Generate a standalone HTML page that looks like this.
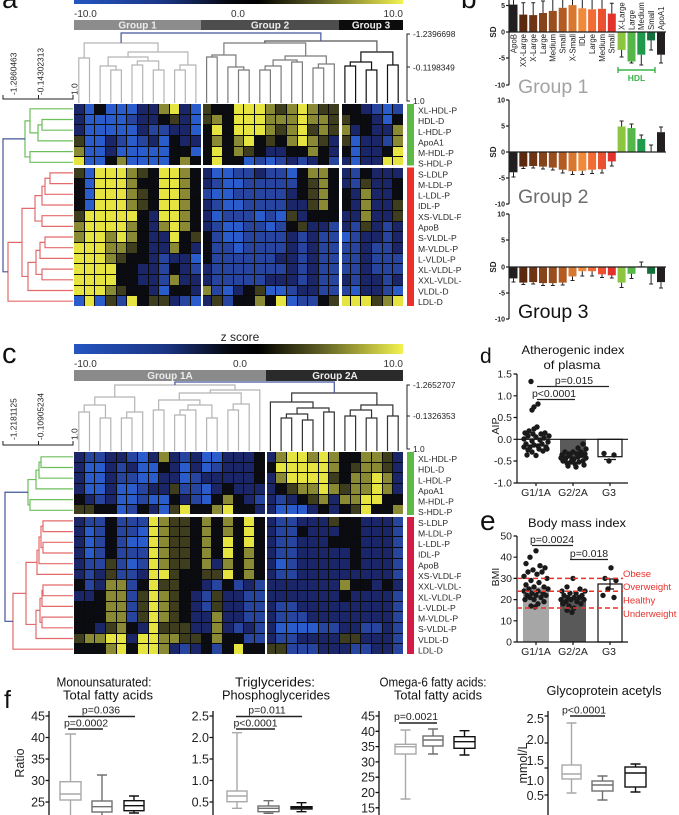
<!DOCTYPE html>
<html><head><meta charset="utf-8"><style>
html,body{margin:0;padding:0;background:#fff;}
body{width:679px;height:815px;position:relative;overflow:hidden;font-family:"Liberation Sans",Arial,sans-serif;}
svg{position:absolute;left:0;top:0;}
.hm{position:absolute;width:329px;height:202px;display:grid;grid-template-columns:repeat(31,1fr);grid-template-rows:repeat(19,1fr);gap:1px;background:#0a0a0a;}
.hm i{display:block;}
.u{background:#2a5ccc}.b{background:#27459e}.n{background:#1b2668}.k{background:#0b0c12}.o{background:#3e3e1e}.l{background:#8a8a34}.y{background:#e6e440}
.sep{position:absolute;background:#fff;}
</style></head><body>
<svg width="679" height="815" viewBox="0 0 679 815" xmlns="http://www.w3.org/2000/svg" font-family="Liberation Sans, Arial, sans-serif">
<defs>
<linearGradient id="cb" x1="0" x2="1" y1="0" y2="0">
<stop offset="0" stop-color="#2456c2"/><stop offset="0.28" stop-color="#1a3483"/><stop offset="0.47" stop-color="#05070f"/><stop offset="0.56" stop-color="#000"/><stop offset="0.75" stop-color="#5e5e24"/><stop offset="1" stop-color="#f2f250"/>
</linearGradient>
<clipPath id="cl"><rect x="0" y="0" width="461" height="815"/></clipPath>
</defs>

<!-- ============ PANEL A ============ -->
<text x="2" y="8" font-size="28" fill="#111">a</text>
<rect x="74" y="-1" width="329" height="5" fill="url(#cb)"/>
<g font-size="10" fill="#333">
<text x="74" y="17">-10.0</text><text x="238" y="17" text-anchor="middle">0.0</text><text x="403" y="17" text-anchor="end">10.0</text>
</g>
<rect x="74" y="20" width="127" height="10" fill="#8c8c8c"/>
<rect x="201" y="20" width="138" height="10" fill="#4d4d4d"/>
<rect x="339" y="20" width="64" height="10" fill="#0c0c0c"/>
<g font-size="10" font-weight="bold" fill="#ececec" text-anchor="middle">
<text x="137.5" y="28.5">Group 1</text><text x="270" y="28.5">Group 2</text><text x="371" y="28.5">Group 3</text>
</g>
<g fill="none" stroke-width="1.2">
<path stroke="#b4b4b4" d="M78.8 103V58H89.5V103M110.8 103V70H121.4V103M100.1 103V66H116.1V70M132 103V65H142.7V103M153.3 103V70H164V103M137.35 65V61H158.65V70M108.1 66V57H148V61M174.6 103V70H185.3V103M179.95 70V65H195.9V103M128.05 57V52H187.9V65M84.15 58V43H158V52"/>
<path stroke="#7a7a7a" d="M206.6 103V57H217.2V103M238.5 103V70H249.2V103M227.9 103V67H243.85V70M211.9 57V55H235.9V67M259.8 103V70H270.4V103M265.1 70V66H281.1V103M291.7 103V62H302.4V103M273.1 66V60H297.05V62M313 103V68H323.7V103M318.35 68V64H334.3V103M285.1 60V56H326.3V64M223.9 55V43H305.7V56"/>
<path stroke="#111" d="M344.9 103V66H355.6V103M366.2 103V70H376.9V103M350.25 66V62H371.55V70M387.5 103V65H398.2V103M360.9 62V52H392.85V65"/>
<path stroke="#555" d="M264.8 43V41H376.9V52"/>
<path stroke="#44559a" d="M121.1 43V33H320.85V41"/>
</g>
<path d="M410 34H407V101H410M407 67H410" fill="none" stroke="#222" stroke-width="1"/>
<g font-size="8.4" fill="#222" clip-path="url(#cl)">
<text x="413" y="37">-1.2396698</text><text x="413" y="70.5">-0.1198349</text><text x="413" y="104">1.0</text>
</g>
<path d="M3 95V99H73V95M38.5 99V95" fill="none" stroke="#222" stroke-width="1"/>
<g font-size="8.4" fill="#222">
<text transform="translate(16.5,95) rotate(-90)">-1.2860463</text>
<text transform="translate(43.5,95) rotate(-90)">-0.14302313</text>
<text transform="translate(77.5,95) rotate(-90)">1.0</text>
</g>
<g fill="none" stroke-width="1.2">
<path stroke="#6cbf5c" d="M73 119.5H42V130.2H73M42 124.85H38V140.9H73M73 108.8H30V132.9H38M73 151.6H30V162.3H73M30 120.85H25V156.95H30"/>
<path stroke="#e36a6a" d="M73 172.9H50V183.6H73M50 178.25H45V194.3H73M45 186.3H42V205H73M73 215.7H42V226.4H73M42 195.65H35V221.05H42M73 237H45V247.7H73M45 242.35H40V258.4H73M73 269.1H42V279.8H73M40 250.4H36V274.45H42M36 262.4H28V290.5H73M35 208.35H22V276.45H28M22 242.4H8V301.2H73"/>
<path stroke="#44559a" d="M25 138.9H3V271.8H8"/>
</g>
<rect x="407" y="104" width="7" height="61.5" fill="#5dba47"/>
<rect x="407" y="167.5" width="7" height="138.5" fill="#ec2f2a"/>
<g font-size="8.6" fill="#2a2a2a" clip-path="url(#cl)">
<text x="418" y="113.5">XL-HDL-P</text><text x="418" y="124.1">HDL-D</text><text x="418" y="134.8">L-HDL-P</text><text x="418" y="145.4">ApoA1</text><text x="418" y="156">M-HDL-P</text><text x="418" y="166.7">S-HDL-P</text>
<text x="418" y="177.3">S-LDLP</text><text x="418" y="188">M-LDL-P</text><text x="418" y="198.6">L-LDL-P</text><text x="418" y="209.2">IDL-P</text><text x="418" y="219.9">XS-VLDL-P</text><text x="418" y="230.5">ApoB</text><text x="418" y="241.2">S-VLDL-P</text><text x="418" y="251.8">M-VLDL-P</text><text x="418" y="262.4">L-VLDL-P</text><text x="418" y="273.1">XL-VLDL-P</text><text x="418" y="283.7">XXL-VLDL-P</text><text x="418" y="294.3">VLDL-D</text><text x="418" y="305">LDL-D</text>
</g>

<!-- ============ PANEL B ============ -->
<text x="461" y="8" font-size="28" fill="#111">b</text>
<g>
<rect x="509.5" y="4.6" width="8" height="27.4" fill="#231f20"/>
<rect x="519.3" y="14.6" width="8" height="17.4" fill="#5b2a0e"/>
<rect x="529.2" y="15.1" width="8" height="16.9" fill="#6e3413"/>
<rect x="539" y="13" width="8" height="19" fill="#87431a"/>
<rect x="548.8" y="10.9" width="8" height="21.1" fill="#9a4d1d"/>
<rect x="558.7" y="7.8" width="8" height="24.2" fill="#b35b22"/>
<rect x="568.5" y="5.1" width="8" height="26.9" fill="#d8772f"/>
<rect x="578.3" y="8.3" width="8" height="23.7" fill="#f08a3a"/>
<rect x="588.1" y="9.3" width="8" height="22.7" fill="#f26b35"/>
<rect x="598" y="8.8" width="8" height="23.2" fill="#ec512f"/>
<rect x="607.8" y="13.6" width="8" height="18.4" fill="#e3312b"/>
<rect x="617.6" y="32" width="8" height="17.9" fill="#8cc63f"/>
<rect x="627.5" y="32" width="8" height="29.5" fill="#55b649"/>
<rect x="637.3" y="32" width="8" height="22.7" fill="#1f9a4b"/>
<rect x="647.1" y="32" width="8" height="8.4" fill="#13703a"/>
<rect x="657" y="32" width="8" height="22.7" fill="#231f20"/>
<path fill="none" stroke="#222" stroke-width="1" d="M513.5 4.6V0M523.3 14.6V2.7M521.3 2.7H525.3M533.2 15.1V2.7M531.2 2.7H535.2M543 13V1M541 1H545M552.8 10.9V0M562.7 7.8V0M572.5 5.1V0M582.3 8.3V0M592.1 9.3V0M602 8.8V0M611.8 13.6V3.3M609.8 3.3H613.8M621.6 49.9V57M619.6 57H623.6M631.5 61.5V63M629.5 63H633.5M641.3 54.7V65M639.3 65H643.3M651.1 40.4V50M649.1 50H653.1M661 54.7V63M659 63H663"/>
<path fill="none" stroke="#222" stroke-width="1.2" d="M509 0V85M506 5.5H509M506 32H509M506 58H509M506 85H509M509 32H666"/>
<g font-size="7" font-weight="bold" fill="#222" text-anchor="end">
<text x="505" y="8">5</text><text x="505" y="34.5">0</text><text x="505" y="60.5">-5</text><text x="505" y="87.5">-10</text>
</g>
<text transform="translate(496,32) rotate(-90)" font-size="8" font-weight="bold" fill="#222" text-anchor="middle">SD</text>
<g font-size="7.8" fill="#222">
<text transform="translate(516.3,34) rotate(-90)" text-anchor="end">ApoB</text>
<text transform="translate(526.1,34) rotate(-90)" text-anchor="end">XX-Large</text>
<text transform="translate(536,34) rotate(-90)" text-anchor="end">X-Large</text>
<text transform="translate(545.8,34) rotate(-90)" text-anchor="end">Large</text>
<text transform="translate(555.6,34) rotate(-90)" text-anchor="end">Medium</text>
<text transform="translate(565.5,34) rotate(-90)" text-anchor="end">Small</text>
<text transform="translate(575.3,34) rotate(-90)" text-anchor="end">X-Small</text>
<text transform="translate(585.1,34) rotate(-90)" text-anchor="end">IDL</text>
<text transform="translate(594.9,34) rotate(-90)" text-anchor="end">Large</text>
<text transform="translate(604.8,34) rotate(-90)" text-anchor="end">Medium</text>
<text transform="translate(614.6,34) rotate(-90)" text-anchor="end">Small</text>
<text transform="translate(624.4,30) rotate(-90)">X-Large</text>
<text transform="translate(634.3,30) rotate(-90)">Large</text>
<text transform="translate(644.1,30) rotate(-90)">Medium</text>
<text transform="translate(653.9,30) rotate(-90)">Small</text>
<text transform="translate(663.8,30) rotate(-90)">ApoA1</text>
</g>
<path fill="none" stroke="#3bb34a" stroke-width="1.4" d="M618 70H655M618 67V73M655 67V73"/>
<text x="636.5" y="81" font-size="8.5" font-weight="bold" fill="#3bb34a" text-anchor="middle">HDL</text>
<text x="518" y="93" font-size="19.5" fill="#a3a3a3">Group 1</text>
</g>
<g>
<rect x="509.5" y="152" width="8" height="20.3" fill="#231f20"/>
<rect x="519.3" y="152" width="8" height="14.6" fill="#5b2a0e"/>
<rect x="529.2" y="152" width="8" height="14" fill="#6e3413"/>
<rect x="539" y="152" width="8" height="14.6" fill="#87431a"/>
<rect x="548.8" y="152" width="8" height="15.6" fill="#9a4d1d"/>
<rect x="558.7" y="152" width="8" height="17.7" fill="#b35b22"/>
<rect x="568.5" y="152" width="8" height="19.2" fill="#d8772f"/>
<rect x="578.3" y="152" width="8" height="18.7" fill="#f08a3a"/>
<rect x="588.1" y="152" width="8" height="17.7" fill="#f26b35"/>
<rect x="598" y="152" width="8" height="17.2" fill="#ec512f"/>
<rect x="607.8" y="152" width="8" height="9.4" fill="#e3312b"/>
<rect x="617.6" y="126.5" width="8" height="25.5" fill="#8cc63f"/>
<rect x="627.5" y="128.1" width="8" height="23.9" fill="#55b649"/>
<rect x="637.3" y="139" width="8" height="13" fill="#1f9a4b"/>
<rect x="657" y="132.2" width="8" height="19.8" fill="#231f20"/>
<path fill="none" stroke="#222" stroke-width="1" d="M513.5 172.3V177M511.5 177H515.5M523.3 166.6V168.5M521.3 168.5H525.3M533.2 166V168M531.2 168H535.2M543 166.6V169M541 169H545M552.8 167.6V170M550.8 170H554.8M562.7 169.7V173M560.7 173H564.7M572.5 171.2V174.5M570.5 174.5H574.5M582.3 170.7V174.5M580.3 174.5H584.3M592.1 169.7V173.5M590.1 173.5H594.1M602 169.2V173M600 173H604M611.8 161.4V166M609.8 166H613.8M621.6 126.5V121M619.6 121H623.6M631.5 128.1V124M629.5 124H633.5M641.3 139V135M639.3 135H643.3M651.1 152V145M649.1 145H653.1M661 132.2V127M659 127H663"/>
<path fill="none" stroke="#222" stroke-width="1.2" d="M509 100V204M506 100H509M506 126H509M506 152H509M506 178H509M506 204H509M509 152H666"/>
<g font-size="7" font-weight="bold" fill="#222" text-anchor="end">
<text x="505" y="102.5">10</text><text x="505" y="128.5">5</text><text x="505" y="154.5">0</text><text x="505" y="180.5">-5</text><text x="505" y="206.5">-10</text>
</g>
<text transform="translate(496,152) rotate(-90)" font-size="8" font-weight="bold" fill="#222" text-anchor="middle">SD</text>
<text x="518" y="203" font-size="19.5" fill="#6d6d6d">Group 2</text>
</g>
<g>
<rect x="509.5" y="267" width="8" height="11.4" fill="#231f20"/>
<rect x="519.3" y="267" width="8" height="15.6" fill="#5b2a0e"/>
<rect x="529.2" y="267" width="8" height="15.1" fill="#6e3413"/>
<rect x="539" y="267" width="8" height="16.1" fill="#87431a"/>
<rect x="548.8" y="267" width="8" height="16.1" fill="#9a4d1d"/>
<rect x="558.7" y="267" width="8" height="15.6" fill="#b35b22"/>
<rect x="568.5" y="267" width="8" height="9.4" fill="#d8772f"/>
<rect x="578.3" y="267" width="8" height="4.2" fill="#f08a3a"/>
<rect x="588.1" y="267" width="8" height="4.2" fill="#f26b35"/>
<rect x="598" y="267" width="8" height="7.3" fill="#ec512f"/>
<rect x="607.8" y="267" width="8" height="8.3" fill="#e3312b"/>
<rect x="617.6" y="267" width="8" height="15.6" fill="#8cc63f"/>
<rect x="627.5" y="267" width="8" height="6.8" fill="#55b649"/>
<rect x="637.3" y="266.3" width="8" height="0.7" fill="#1f9a4b"/>
<rect x="647.1" y="267" width="8" height="6.8" fill="#13703a"/>
<rect x="657" y="267" width="8" height="15.1" fill="#231f20"/>
<path fill="none" stroke="#222" stroke-width="1" d="M513.5 278.4V282M511.5 282H515.5M523.3 282.6V284.5M521.3 284.5H525.3M533.2 282.1V284M531.2 284H535.2M543 283.1V285.5M541 285.5H545M552.8 283.1V285.5M550.8 285.5H554.8M562.7 282.6V285M560.7 285H564.7M572.5 276.4V280.5M570.5 280.5H574.5M582.3 271.2V276M580.3 276H584.3M592.1 271.2V276M590.1 276H594.1M602 274.3V277.5M600 277.5H604M611.8 275.3V278M609.8 278H613.8M621.6 282.6V287.5M619.6 287.5H623.6M631.5 273.8V278.5M629.5 278.5H633.5M641.3 266.5V262M639.3 262H643.3M651.1 273.8V284M649.1 284H653.1M661 282.1V288M659 288H663"/>
<path fill="none" stroke="#222" stroke-width="1.2" d="M509 214V319M506 214H509M506 240H509M506 267H509M506 293H509M506 319H509M509 267H666"/>
<g font-size="7" font-weight="bold" fill="#222" text-anchor="end">
<text x="505" y="216.5">10</text><text x="505" y="242.5">5</text><text x="505" y="269.5">0</text><text x="505" y="295.5">-5</text><text x="505" y="321.5">-10</text>
</g>
<text transform="translate(496,267) rotate(-90)" font-size="8" font-weight="bold" fill="#222" text-anchor="middle">SD</text>
<text x="518" y="318" font-size="19.5" fill="#111">Group 3</text>
</g>

<!-- ============ PANEL C ============ -->
<text x="2" y="363" font-size="29" fill="#111">c</text>
<text x="240" y="341" font-size="12" fill="#222" text-anchor="middle">z score</text>
<rect x="74" y="344" width="329" height="10" fill="url(#cb)"/>
<g font-size="10" fill="#333">
<text x="74" y="367">-10.0</text><text x="240" y="367" text-anchor="middle">0.0</text><text x="403" y="367" text-anchor="end">10.0</text>
</g>
<rect x="74" y="370" width="192" height="11" fill="#8a8a8a"/>
<rect x="266" y="370" width="137" height="11" fill="#2a2a2a"/>
<g font-size="10" font-weight="bold" fill="#ececec" text-anchor="middle">
<text x="170" y="379">Group 1A</text><text x="335" y="379">Group 2A</text>
</g>
<g fill="none" stroke-width="1.2">
<path stroke="#b4b4b4" d="M78.8 451V412H89.5V451M100.1 451V418H110.8V451M84.15 412V405H105.45V418M121.4 451V418H132V451M126.7 418V412H142.7V451M94.8 405V397H134.7V412M153.3 451V410H164V451M174.6 451V415H185.3V451M179.95 415V410H195.9V451M206.6 451V418H217.2V451M187.9 410V405H211.9V418M158.65 410V400H199.9V405M227.9 451V410H238.5V451M233.2 410V404H249.2V451M179.3 400V393H241.2V404M210.25 393V390H259.8V451M114.75 397V385H235V390"/>
<path stroke="#333" d="M281.1 451V418H291.7V451M302.4 451V420H313V451M286.4 418V414H307.7V420M323.7 451V412H334.3V451M297.05 414V408H329V412M270.4 451V402H313V408M344.9 451V416H355.6V451M366.2 451V418H376.9V451M350.25 416V410H371.55V418M387.5 451V416H398.2V451M360.9 410V405H392.85V416M291.7 402V393H376.9V405"/>
<path stroke="#44559a" d="M174.9 385V382H334.3V393"/>
</g>
<path d="M410 385H407V449H410M407 416H410" fill="none" stroke="#222" stroke-width="1"/>
<g font-size="8.4" fill="#222" clip-path="url(#cl)">
<text x="413" y="388">-1.2652707</text><text x="413" y="419">-0.1326353</text><text x="413" y="452">1.0</text>
</g>
<path d="M3 441V445H73V441M38.5 445V441" fill="none" stroke="#222" stroke-width="1"/>
<g font-size="8.4" fill="#222">
<text transform="translate(16.5,440) rotate(-90)">-1.2181125</text>
<text transform="translate(43.5,440) rotate(-90)">-0.10905234</text>
<text transform="translate(77.5,440) rotate(-90)">1.0</text>
</g>
<g fill="none" stroke-width="1.2">
<path stroke="#6cbf5c" d="M73 456.8H41V467.5H73M41 462.15H39V478.2H73M39 470.2H36V488.9H73M73 499.6H30V510.3H73M36 479.55H28V504.95H30"/>
<path stroke="#e36a6a" d="M73 520.9H43V531.6H73M73 542.3H43V553H73M43 526.25H41V547.65H43M41 536.95H39V563.7H73M39 550.3H37V574.4H73M73 585H43V595.7H73M43 590.35H42V606.4H73M73 617.1H42V627.8H73M42 598.4H40V622.45H42M40 610.4H36V638.5H73M37 562.35H26V624.45H36M26 593.4H13V649.2H73"/>
<path stroke="#44559a" d="M28 492.25H5V621.3H13"/>
</g>
<rect x="407" y="452" width="7" height="63" fill="#5dba47"/>
<rect x="407" y="517" width="7" height="137" fill="#d41b45"/>
<g font-size="8.6" fill="#2a2a2a" clip-path="url(#cl)">
<text x="418" y="462">XL-HDL-P</text><text x="418" y="472.6">HDL-D</text><text x="418" y="483.3">L-HDL-P</text><text x="418" y="493.9">ApoA1</text><text x="418" y="504.5">M-HDL-P</text><text x="418" y="515.2">S-HDL-P</text>
<text x="418" y="525.8">S-LDLP</text><text x="418" y="536.5">M-LDL-P</text><text x="418" y="547.1">L-LDL-P</text><text x="418" y="557.7">IDL-P</text><text x="418" y="568.4">ApoB</text><text x="418" y="579">XS-VLDL-P</text><text x="418" y="589.7">XXL-VLDL-P</text><text x="418" y="600.3">XL-VLDL-P</text><text x="418" y="610.9">L-VLDL-P</text><text x="418" y="621.6">M-VLDL-P</text><text x="418" y="632.2">S-VLDL-P</text><text x="418" y="642.8">VLDL-D</text><text x="418" y="653.5">LDL-D</text>
</g>

<!-- ============ PANEL D ============ -->
<text x="480" y="363" font-size="21" fill="#111">d</text>
<text x="573" y="354" font-size="12" fill="#111" text-anchor="middle" textLength="103" lengthAdjust="spacingAndGlyphs">Atherogenic index</text>
<text x="572" y="369" font-size="12" fill="#111" text-anchor="middle" textLength="57" lengthAdjust="spacingAndGlyphs">of plasma</text>
<rect x="523" y="437.6" width="26" height="1.7" fill="#a5a5a5"/>
<rect x="560" y="439.3" width="26" height="19" fill="#5a5a5a"/>
<rect x="598" y="439.3" width="24" height="17.4" fill="#fff" stroke="#111" stroke-width="1.2"/>
<path fill="none" stroke="#111" stroke-width="1.2" d="M517 374V483H628M513.5 374H517M513.5 395.8H517M513.5 417.5H517M513.5 439.3H517M513.5 461H517M513.5 483H517M536 483V486M573 483V486M610 483V486M517 439.3H628M604 459.5H616"/>
<g fill="#1a1a1a">
<circle cx="531" cy="381.5" r="2.7"/><circle cx="538" cy="404" r="2.7"/><circle cx="534" cy="407" r="2.7"/><circle cx="532" cy="410" r="2.7"/><circle cx="537" cy="427" r="2.7"/><circle cx="534" cy="429" r="2.7"/><circle cx="524" cy="439" r="2.7"/><circle cx="528" cy="436" r="2.7"/><circle cx="532" cy="441" r="2.7"/><circle cx="536" cy="437" r="2.7"/><circle cx="540" cy="440" r="2.7"/><circle cx="544" cy="438" r="2.7"/><circle cx="548" cy="442" r="2.7"/><circle cx="526" cy="444" r="2.7"/><circle cx="530" cy="447" r="2.7"/><circle cx="534" cy="445" r="2.7"/><circle cx="538" cy="446" r="2.7"/><circle cx="542" cy="444" r="2.7"/><circle cx="546" cy="447" r="2.7"/><circle cx="525" cy="433" r="2.7"/><circle cx="529" cy="431" r="2.7"/><circle cx="533" cy="434" r="2.7"/><circle cx="541" cy="434" r="2.7"/><circle cx="545" cy="433" r="2.7"/><circle cx="549" cy="436" r="2.7"/><circle cx="528" cy="450" r="2.7"/><circle cx="532" cy="452" r="2.7"/><circle cx="536" cy="455.5" r="2.7"/><circle cx="527" cy="455" r="2.7"/><circle cx="543" cy="451" r="2.7"/><circle cx="547" cy="449" r="2.7"/><circle cx="524" cy="447" r="2.7"/><circle cx="539" cy="449" r="2.7"/>
<circle cx="562" cy="455" r="2.7"/><circle cx="566" cy="458" r="2.7"/><circle cx="570" cy="456" r="2.7"/><circle cx="574" cy="459" r="2.7"/><circle cx="578" cy="457" r="2.7"/><circle cx="582" cy="455" r="2.7"/><circle cx="586" cy="458" r="2.7"/><circle cx="563" cy="461" r="2.7"/><circle cx="567" cy="463" r="2.7"/><circle cx="571" cy="462" r="2.7"/><circle cx="575" cy="464" r="2.7"/><circle cx="579" cy="462" r="2.7"/><circle cx="583" cy="461" r="2.7"/><circle cx="565" cy="452" r="2.7"/><circle cx="569" cy="454" r="2.7"/><circle cx="573" cy="452" r="2.7"/><circle cx="577" cy="454" r="2.7"/><circle cx="581" cy="452" r="2.7"/><circle cx="585" cy="454" r="2.7"/><circle cx="568" cy="466" r="2.7"/><circle cx="576" cy="467" r="2.7"/><circle cx="572" cy="460" r="2.7"/><circle cx="584" cy="465" r="2.7"/><circle cx="561" cy="458" r="2.7"/><circle cx="586" cy="449" r="2.7"/><circle cx="583" cy="444" r="2.7"/><circle cx="578" cy="448" r="2.7"/>
<circle cx="604" cy="453.5" r="2.7"/><circle cx="614" cy="455" r="2.7"/><circle cx="609" cy="461" r="2.7"/>
</g>
<g font-size="10.5" fill="#222" text-anchor="end">
<text x="512" y="377.5">1.5</text><text x="512" y="399.3">1.0</text><text x="512" y="421">0.5</text><text x="512" y="442.8">0.0</text><text x="512" y="464.5">-0.5</text><text x="512" y="486.5">-1.0</text>
</g>
<text transform="translate(499,426) rotate(-90)" font-size="10.5" fill="#222" text-anchor="middle">AIP</text>
<g font-size="10.5" fill="#222" text-anchor="middle">
<text x="574" y="384">p=0.015</text><text x="554" y="397">p&lt;0.0001</text>
<text x="536" y="496">G1/1A</text><text x="573" y="496">G2/2A</text><text x="609" y="496">G3</text>
</g>
<path fill="none" stroke="#222" stroke-width="1.3" d="M537 386.5H609M537 399.5H575"/>

<!-- ============ PANEL E ============ -->
<text x="480" y="530" font-size="28" fill="#111">e</text>
<text x="577" y="527" font-size="12" fill="#111" text-anchor="middle" textLength="98" lengthAdjust="spacingAndGlyphs">Body mass index</text>
<rect x="523" y="587.3" width="26" height="54.7" fill="#a6a6a6"/>
<rect x="560" y="597.5" width="26" height="44.5" fill="#595959"/>
<rect x="598" y="584" width="24" height="58" fill="#fff" stroke="#111" stroke-width="1.2"/>
<path fill="none" stroke="#111" stroke-width="1.2" d="M517 536V642H628M513.5 536H517M513.5 557.2H517M513.5 578.4H517M513.5 599.6H517M513.5 620.8H517M513.5 642H517M536 642V645M573 642V645M610 642V645M610 579V589M606 579H614M606 589H614"/>
<g fill="#1a1a1a">
<circle cx="536" cy="550.8" r="2.7"/><circle cx="530" cy="557.2" r="2.7"/><circle cx="526" cy="563.6" r="2.7"/><circle cx="540" cy="565.7" r="2.7"/><circle cx="545" cy="567.8" r="2.7"/><circle cx="533" cy="569.9" r="2.7"/><circle cx="528" cy="572" r="2.7"/><circle cx="542" cy="572" r="2.7"/><circle cx="537" cy="574.2" r="2.7"/><circle cx="524" cy="576.3" r="2.7"/><circle cx="547" cy="578.4" r="2.7"/><circle cx="531" cy="580.5" r="2.7"/><circle cx="539" cy="582.6" r="2.7"/><circle cx="526" cy="584.8" r="2.7"/><circle cx="544" cy="586.9" r="2.7"/><circle cx="534" cy="586.9" r="2.7"/><circle cx="529" cy="589" r="2.7"/><circle cx="548" cy="589" r="2.7"/><circle cx="538" cy="591.1" r="2.7"/><circle cx="524" cy="591.1" r="2.7"/><circle cx="543" cy="593.2" r="2.7"/><circle cx="532" cy="593.2" r="2.7"/><circle cx="527" cy="595.4" r="2.7"/><circle cx="536" cy="595.4" r="2.7"/><circle cx="546" cy="595.4" r="2.7"/><circle cx="530" cy="597.5" r="2.7"/><circle cx="541" cy="597.5" r="2.7"/><circle cx="534" cy="599.6" r="2.7"/><circle cx="525" cy="599.6" r="2.7"/><circle cx="544" cy="601.7" r="2.7"/><circle cx="538" cy="603.8" r="2.7"/><circle cx="531" cy="606" r="2.7"/><circle cx="535" cy="607" r="2.7"/>
<circle cx="573" cy="578.4" r="2.7"/><circle cx="567" cy="586.9" r="2.7"/><circle cx="580" cy="589" r="2.7"/><circle cx="562" cy="591.1" r="2.7"/><circle cx="585" cy="591.1" r="2.7"/><circle cx="570" cy="593.2" r="2.7"/><circle cx="576" cy="593.2" r="2.7"/><circle cx="564" cy="595.4" r="2.7"/><circle cx="582" cy="595.4" r="2.7"/><circle cx="568" cy="597.5" r="2.7"/><circle cx="574" cy="597.5" r="2.7"/><circle cx="579" cy="597.5" r="2.7"/><circle cx="561" cy="599.6" r="2.7"/><circle cx="571" cy="599.6" r="2.7"/><circle cx="584" cy="599.6" r="2.7"/><circle cx="566" cy="601.7" r="2.7"/><circle cx="577" cy="601.7" r="2.7"/><circle cx="563" cy="603.8" r="2.7"/><circle cx="581" cy="603.8" r="2.7"/><circle cx="569" cy="606" r="2.7"/><circle cx="574" cy="608.1" r="2.7"/><circle cx="567" cy="610.2" r="2.7"/><circle cx="572" cy="612.3" r="2.7"/>
<circle cx="611" cy="567.8" r="2.7"/><circle cx="605" cy="578.4" r="2.7"/><circle cx="616" cy="580.5" r="2.7"/><circle cx="608" cy="589" r="2.7"/><circle cx="603" cy="595.4" r="2.7"/><circle cx="614" cy="597.5" r="2.7"/>
</g>
<path fill="none" stroke="#e8322d" stroke-width="1.5" stroke-dasharray="5,3" d="M517 578.4H623M517 591.3H623M517 608H623"/>
<g font-size="9.5" fill="#e8322d">
<text x="623" y="577">Obese</text><text x="623" y="590">Overweight</text><text x="623" y="603.5">Healthy</text><text x="623" y="617">Underweight</text>
</g>
<g font-size="10.5" fill="#222" text-anchor="end">
<text x="512" y="539.5">50</text><text x="512" y="560.7">40</text><text x="512" y="581.9">30</text><text x="512" y="603.1">20</text><text x="512" y="624.3">10</text><text x="512" y="645.5">0</text>
</g>
<text transform="translate(499,577) rotate(-90)" font-size="10.5" fill="#222" text-anchor="middle">BMI</text>
<g font-size="10.5" fill="#222" text-anchor="middle">
<text x="552" y="543">p=0.0024</text><text x="589" y="557">p=0.018</text>
<text x="536" y="655">G1/1A</text><text x="573" y="655">G2/2A</text><text x="609" y="655">G3</text>
</g>
<path fill="none" stroke="#222" stroke-width="1.3" d="M532 545.5H573M570 559.5H608"/>

<!-- ============ PANEL F ============ -->
<text x="4" y="708" font-size="25" fill="#111">f</text>
<g font-size="12.5" fill="#111" text-anchor="middle">
<text x="104" y="686.5" textLength="95" lengthAdjust="spacingAndGlyphs">Monounsaturated:</text>
<text x="108" y="699.5" textLength="90" lengthAdjust="spacingAndGlyphs">Total fatty acids</text>
<text x="275" y="686.5" textLength="80" lengthAdjust="spacingAndGlyphs">Triglycerides:</text>
<text x="276" y="699.5" textLength="108" lengthAdjust="spacingAndGlyphs">Phosphoglycerides</text>
<text x="433" y="686.5" textLength="107" lengthAdjust="spacingAndGlyphs">Omega-6 fatty acids:</text>
<text x="438" y="699.5" textLength="88" lengthAdjust="spacingAndGlyphs">Total fatty acids</text>
<text x="604" y="695" textLength="115" lengthAdjust="spacingAndGlyphs">Glycoprotein acetyls</text>
</g>
<path fill="none" stroke="#111" stroke-width="1.3" d="M49 711V815M45.5 716H49M45.5 737.5H49M45.5 759H49M45.5 780.5H49M45.5 802H49
M213 711V815M209.5 716H213M209.5 737.5H213M209.5 759H213M209.5 780.5H213M209.5 802H213
M379 711V815M375.5 716H379M375.5 731.3H379M375.5 746.6H379M375.5 761.9H379M375.5 777.2H379M375.5 792.5H379M375.5 807.8H379
M548 711V815M544.5 716H548M544.5 743H548M544.5 768H548M544.5 795H548"/>
<g font-size="12.5" fill="#222" text-anchor="end">
<text x="45" y="720.5">45</text><text x="45" y="742">40</text><text x="45" y="763.5">35</text><text x="45" y="785">30</text><text x="45" y="806.5">25</text>
<text x="209" y="720.5">2.5</text><text x="209" y="742">2.0</text><text x="209" y="763.5">1.5</text><text x="209" y="785">1.0</text><text x="209" y="806.5">0.5</text>
<text x="375" y="720.5">45</text><text x="375" y="735.8">40</text><text x="375" y="751.1">35</text><text x="375" y="766.4">30</text><text x="375" y="781.7">25</text><text x="375" y="797">20</text><text x="375" y="812.3">15</text>
<text x="544" y="723">2.5</text><text x="544" y="744">2.0</text><text x="544" y="765">1.5</text><text x="544" y="785">1.0</text><text x="544" y="800">0.5</text>
</g>
<text transform="translate(24,763) rotate(-90)" font-size="12.5" fill="#222" text-anchor="middle">Ratio</text>
<text transform="translate(527,763) rotate(-90)" font-size="12.5" fill="#222" text-anchor="middle">mmol/L</text>
<g fill="#fff" stroke-width="1.4">
<g stroke="#a9a9a9"><path d="M70.5 734V781.7M65 734H76M70.5 800V815M60 794H81"/><rect x="60" y="781.7" width="21" height="18.3" fill="none"/></g>
<g stroke="#707070"><path d="M102 775V801M97 775H107M102 812V815M92 806.7H112"/><rect x="92" y="801" width="20" height="11" fill="none"/></g>
<g stroke="#111"><path d="M134 796V800.7M129 796H139M134 810.7V813M129 813H139M124 805.7H144"/><rect x="124" y="800.7" width="20" height="10" fill="none"/></g>
<g stroke="#a9a9a9"><path d="M237 732.7V791M232 732.7H242M237 801.7V808.3M232 808.3H242M227 796H247"/><rect x="227" y="791" width="20" height="10.7" fill="none"/></g>
<g stroke="#707070"><path d="M268.5 800.7V806M263.5 800.7H273.5M268.5 811.7V813.3M263.5 813.3H273.5M258 808.3H279"/><rect x="258" y="806" width="21" height="5.7" fill="none"/></g>
<g stroke="#111"><path d="M301.5 802.7V806.7M296.5 802.7H306.5M301.5 809V811.7M296.5 811.7H306.5M291 807.7H312"/><rect x="291" y="806.7" width="21" height="2.3" fill="none"/></g>
<g stroke="#a9a9a9"><path d="M405.5 730V744.3M400.5 730H410.5M405.5 754V799M400.5 799H410.5M395 746.7H416"/><rect x="395" y="744.3" width="21" height="9.7" fill="none"/></g>
<g stroke="#707070"><path d="M433 729V736M428 729H438M433 746V754M428 754H438M423 740H443"/><rect x="423" y="736" width="20" height="10" fill="none"/></g>
<g stroke="#111"><path d="M464.5 730.7V736.7M459.5 730.7H469.5M464.5 748.3V755M459.5 755H469.5M454 741.7H475"/><rect x="454" y="736.7" width="21" height="11.6" fill="none"/></g>
<g stroke="#a9a9a9"><path d="M571.5 723V765M566.5 723H576.5M571.5 779V793M566.5 793H576.5M562 774H581"/><rect x="562" y="765" width="19" height="14" fill="none"/></g>
<g stroke="#707070"><path d="M602.5 776V781M597.5 776H607.5M602.5 791V800M597.5 800H607.5M592 785H613"/><rect x="592" y="781" width="21" height="10" fill="none"/></g>
<g stroke="#111"><path d="M635.5 764V767M630.5 764H640.5M635.5 787V792M630.5 792H640.5M625 773H646"/><rect x="625" y="767" width="21" height="20" fill="none"/></g>
</g>
<g font-size="10.5" fill="#222" text-anchor="middle">
<text x="101" y="713.5">p=0.036</text><text x="86" y="726.5">p=0.0002</text>
<text x="267" y="713.5">p=0.011</text><text x="255.5" y="726.5">p&lt;0.0001</text>
<text x="416" y="720">p=0.0021</text>
<text x="584" y="713.5">p&lt;0.0001</text>
</g>
<path fill="none" stroke="#222" stroke-width="1.5" d="M68 716.5H135M68 729H103M236 716.5H302M236 729H275M399 723H437M570 716H605"/>
</svg>

<div class="hm" style="left:74px;top:104px">
<i class=n></i><i class=u></i><i class=k></i><i class=u></i><i class=u></i><i class=u></i><i class=n></i><i class=n></i><i class=l></i><i class=y></i><i class=n></i><i class=u></i><i class=o></i><i class=k></i><i class=k></i><i class=y></i><i class=y></i><i class=y></i><i class=l></i><i class=o></i><i class=l></i><i class=y></i><i class=l></i><i class=o></i><i class=o></i><i class=k></i><i class=k></i><i class=n></i><i class=b></i><i class=u></i><i class=b></i>
<i class=n></i><i class=u></i><i class=u></i><i class=u></i><i class=u></i><i class=b></i><i class=n></i><i class=n></i><i class=k></i><i class=o></i><i class=n></i><i class=u></i><i class=o></i><i class=l></i><i class=k></i><i class=y></i><i class=y></i><i class=y></i><i class=l></i><i class=l></i><i class=l></i><i class=y></i><i class=l></i><i class=l></i><i class=o></i><i class=o></i><i class=k></i><i class=k></i><i class=n></i><i class=u></i><i class=k></i>
<i class=n></i><i class=u></i><i class=u></i><i class=u></i><i class=u></i><i class=u></i><i class=n></i><i class=b></i><i class=b></i><i class=n></i><i class=n></i><i class=u></i><i class=k></i><i class=y></i><i class=k></i><i class=y></i><i class=y></i><i class=y></i><i class=l></i><i class=o></i><i class=l></i><i class=y></i><i class=o></i><i class=l></i><i class=o></i><i class=l></i><i class=n></i><i class=k></i><i class=n></i><i class=n></i><i class=l></i>
<i class=o></i><i class=u></i><i class=u></i><i class=n></i><i class=b></i><i class=u></i><i class=b></i><i class=n></i><i class=u></i><i class=k></i><i class=n></i><i class=n></i><i class=k></i><i class=l></i><i class=k></i><i class=l></i><i class=y></i><i class=k></i><i class=o></i><i class=k></i><i class=l></i><i class=y></i><i class=l></i><i class=o></i><i class=n></i><i class=o></i><i class=u></i><i class=n></i><i class=n></i><i class=b></i><i class=l></i>
<i class=l></i><i class=u></i><i class=u></i><i class=n></i><i class=u></i><i class=u></i><i class=u></i><i class=u></i><i class=u></i><i class=k></i><i class=k></i><i class=u></i><i class=k></i><i class=y></i><i class=k></i><i class=l></i><i class=o></i><i class=k></i><i class=n></i><i class=n></i><i class=k></i><i class=k></i><i class=l></i><i class=k></i><i class=n></i><i class=k></i><i class=u></i><i class=n></i><i class=n></i><i class=k></i><i class=y></i>
<i class=y></i><i class=u></i><i class=u></i><i class=k></i><i class=l></i><i class=u></i><i class=u></i><i class=u></i><i class=u></i><i class=k></i><i class=l></i><i class=k></i><i class=k></i><i class=y></i><i class=k></i><i class=k></i><i class=u></i><i class=b></i><i class=u></i><i class=b></i><i class=n></i><i class=b></i><i class=n></i><i class=k></i><i class=b></i><i class=n></i><i class=u></i><i class=n></i><i class=n></i><i class=y></i><i class=y></i>
<i class=o></i><i class=u></i><i class=y></i><i class=y></i><i class=y></i><i class=l></i><i class=o></i><i class=k></i><i class=y></i><i class=y></i><i class=l></i><i class=k></i><i class=n></i><i class=u></i><i class=u></i><i class=b></i><i class=b></i><i class=n></i><i class=b></i><i class=b></i><i class=u></i><i class=k></i><i class=l></i><i class=l></i><i class=k></i><i class=n></i><i class=b></i><i class=k></i><i class=n></i><i class=n></i><i class=n></i>
<i class=k></i><i class=u></i><i class=y></i><i class=y></i><i class=y></i><i class=l></i><i class=k></i><i class=k></i><i class=y></i><i class=y></i><i class=l></i><i class=k></i><i class=n></i><i class=b></i><i class=u></i><i class=u></i><i class=b></i><i class=b></i><i class=b></i><i class=b></i><i class=b></i><i class=k></i><i class=o></i><i class=l></i><i class=k></i><i class=n></i><i class=b></i><i class=o></i><i class=n></i><i class=n></i><i class=k></i>
<i class=k></i><i class=u></i><i class=y></i><i class=y></i><i class=y></i><i class=l></i><i class=o></i><i class=k></i><i class=y></i><i class=y></i><i class=l></i><i class=k></i><i class=b></i><i class=u></i><i class=u></i><i class=b></i><i class=b></i><i class=b></i><i class=b></i><i class=b></i><i class=n></i><i class=k></i><i class=o></i><i class=l></i><i class=k></i><i class=k></i><i class=n></i><i class=l></i><i class=n></i><i class=n></i><i class=k></i>
<i class=k></i><i class=u></i><i class=y></i><i class=y></i><i class=y></i><i class=l></i><i class=o></i><i class=k></i><i class=y></i><i class=y></i><i class=l></i><i class=k></i><i class=n></i><i class=b></i><i class=u></i><i class=u></i><i class=b></i><i class=b></i><i class=b></i><i class=b></i><i class=n></i><i class=n></i><i class=o></i><i class=l></i><i class=k></i><i class=k></i><i class=n></i><i class=l></i><i class=n></i><i class=n></i><i class=o></i>
<i class=o></i><i class=y></i><i class=y></i><i class=y></i><i class=y></i><i class=y></i><i class=k></i><i class=n></i><i class=y></i><i class=y></i><i class=l></i><i class=k></i><i class=n></i><i class=u></i><i class=b></i><i class=b></i><i class=b></i><i class=u></i><i class=b></i><i class=u></i><i class=o></i><i class=n></i><i class=k></i><i class=k></i><i class=k></i><i class=n></i><i class=n></i><i class=l></i><i class=n></i><i class=n></i><i class=o></i>
<i class=l></i><i class=y></i><i class=y></i><i class=y></i><i class=y></i><i class=l></i><i class=k></i><i class=n></i><i class=l></i><i class=y></i><i class=l></i><i class=k></i><i class=n></i><i class=b></i><i class=u></i><i class=u></i><i class=b></i><i class=b></i><i class=u></i><i class=b></i><i class=k></i><i class=o></i><i class=n></i><i class=n></i><i class=b></i><i class=n></i><i class=b></i><i class=o></i><i class=n></i><i class=b></i><i class=n></i>
<i class=l></i><i class=y></i><i class=y></i><i class=l></i><i class=y></i><i class=l></i><i class=k></i><i class=n></i><i class=n></i><i class=y></i><i class=k></i><i class=o></i><i class=k></i><i class=b></i><i class=u></i><i class=u></i><i class=b></i><i class=b></i><i class=b></i><i class=b></i><i class=n></i><i class=b></i><i class=n></i><i class=b></i><i class=b></i><i class=u></i><i class=b></i><i class=n></i><i class=n></i><i class=b></i><i class=n></i>
<i class=y></i><i class=y></i><i class=y></i><i class=l></i><i class=l></i><i class=o></i><i class=k></i><i class=n></i><i class=n></i><i class=l></i><i class=k></i><i class=n></i><i class=k></i><i class=b></i><i class=b></i><i class=u></i><i class=b></i><i class=b></i><i class=b></i><i class=b></i><i class=n></i><i class=b></i><i class=n></i><i class=b></i><i class=b></i><i class=b></i><i class=b></i><i class=n></i><i class=b></i><i class=b></i><i class=n></i>
<i class=y></i><i class=y></i><i class=y></i><i class=l></i><i class=o></i><i class=k></i><i class=k></i><i class=n></i><i class=b></i><i class=n></i><i class=n></i><i class=u></i><i class=k></i><i class=b></i><i class=b></i><i class=b></i><i class=b></i><i class=b></i><i class=b></i><i class=n></i><i class=n></i><i class=b></i><i class=n></i><i class=b></i><i class=b></i><i class=b></i><i class=b></i><i class=n></i><i class=b></i><i class=b></i><i class=b></i>
<i class=y></i><i class=y></i><i class=y></i><i class=y></i><i class=k></i><i class=k></i><i class=n></i><i class=n></i><i class=b></i><i class=k></i><i class=n></i><i class=b></i><i class=n></i><i class=b></i><i class=b></i><i class=b></i><i class=b></i><i class=b></i><i class=b></i><i class=b></i><i class=n></i><i class=b></i><i class=n></i><i class=b></i><i class=b></i><i class=b></i><i class=b></i><i class=n></i><i class=b></i><i class=b></i><i class=b></i>
<i class=y></i><i class=y></i><i class=y></i><i class=y></i><i class=k></i><i class=k></i><i class=n></i><i class=n></i><i class=b></i><i class=l></i><i class=n></i><i class=n></i><i class=n></i><i class=b></i><i class=b></i><i class=b></i><i class=b></i><i class=b></i><i class=n></i><i class=n></i><i class=n></i><i class=b></i><i class=n></i><i class=b></i><i class=b></i><i class=n></i><i class=b></i><i class=n></i><i class=n></i><i class=b></i><i class=n></i>
<i class=y></i><i class=y></i><i class=y></i><i class=l></i><i class=o></i><i class=k></i><i class=k></i><i class=n></i><i class=u></i><i class=k></i><i class=k></i><i class=n></i><i class=l></i><i class=b></i><i class=u></i><i class=n></i><i class=k></i><i class=o></i><i class=u></i><i class=u></i><i class=b></i><i class=n></i><i class=n></i><i class=b></i><i class=b></i><i class=b></i><i class=u></i><i class=n></i><i class=n></i><i class=b></i><i class=u></i>
<i class=u></i><i class=y></i><i class=u></i><i class=o></i><i class=b></i><i class=y></i><i class=k></i><i class=o></i><i class=o></i><i class=n></i><i class=b></i><i class=u></i><i class=n></i><i class=o></i><i class=b></i><i class=k></i><i class=k></i><i class=l></i><i class=k></i><i class=y></i><i class=u></i><i class=b></i><i class=b></i><i class=k></i><i class=o></i><i class=y></i><i class=y></i><i class=y></i><i class=o></i><i class=l></i><i class=y></i>
</div>
<div class="sep" style="left:200.5px;top:104px;width:2.6px;height:202px"></div>
<div class="sep" style="left:339px;top:104px;width:2.6px;height:202px"></div>
<div class="sep" style="left:74px;top:165.2px;width:329px;height:2.6px"></div>

<div class="hm" style="left:74px;top:452px">
<i class=n></i><i class=b></i><i class=b></i><i class=n></i><i class=n></i><i class=b></i><i class=u></i><i class=n></i><i class=l></i><i class=n></i><i class=b></i><i class=n></i><i class=u></i><i class=u></i><i class=n></i><i class=n></i><i class=n></i><i class=k></i><i class=n></i><i class=l></i><i class=y></i><i class=y></i><i class=l></i><i class=y></i><i class=l></i><i class=k></i><i class=k></i><i class=l></i><i class=l></i><i class=o></i><i class=n></i>
<i class=n></i><i class=u></i><i class=u></i><i class=n></i><i class=b></i><i class=n></i><i class=u></i><i class=u></i><i class=k></i><i class=n></i><i class=u></i><i class=n></i><i class=u></i><i class=b></i><i class=n></i><i class=n></i><i class=n></i><i class=k></i><i class=k></i><i class=y></i><i class=y></i><i class=y></i><i class=y></i><i class=y></i><i class=l></i><i class=k></i><i class=o></i><i class=l></i><i class=l></i><i class=o></i><i class=n></i>
<i class=n></i><i class=u></i><i class=u></i><i class=n></i><i class=b></i><i class=b></i><i class=u></i><i class=u></i><i class=n></i><i class=n></i><i class=u></i><i class=b></i><i class=n></i><i class=n></i><i class=n></i><i class=n></i><i class=n></i><i class=k></i><i class=n></i><i class=l></i><i class=y></i><i class=y></i><i class=y></i><i class=y></i><i class=o></i><i class=k></i><i class=l></i><i class=l></i><i class=y></i><i class=l></i><i class=n></i>
<i class=n></i><i class=u></i><i class=u></i><i class=n></i><i class=u></i><i class=u></i><i class=b></i><i class=n></i><i class=n></i><i class=o></i><i class=b></i><i class=b></i><i class=u></i><i class=n></i><i class=k></i><i class=n></i><i class=n></i><i class=n></i><i class=n></i><i class=k></i><i class=o></i><i class=l></i><i class=l></i><i class=y></i><i class=l></i><i class=o></i><i class=l></i><i class=l></i><i class=y></i><i class=l></i><i class=n></i>
<i class=k></i><i class=n></i><i class=b></i><i class=n></i><i class=u></i><i class=u></i><i class=b></i><i class=u></i><i class=u></i><i class=k></i><i class=n></i><i class=b></i><i class=u></i><i class=k></i><i class=l></i><i class=k></i><i class=n></i><i class=b></i><i class=n></i><i class=b></i><i class=n></i><i class=k></i><i class=o></i><i class=l></i><i class=n></i><i class=l></i><i class=l></i><i class=y></i><i class=y></i><i class=k></i><i class=k></i>
<i class=o></i><i class=o></i><i class=k></i><i class=k></i><i class=u></i><i class=b></i><i class=k></i><i class=n></i><i class=u></i><i class=o></i><i class=y></i><i class=k></i><i class=k></i><i class=l></i><i class=y></i><i class=k></i><i class=k></i><i class=n></i><i class=n></i><i class=u></i><i class=u></i><i class=u></i><i class=n></i><i class=k></i><i class=n></i><i class=k></i><i class=o></i><i class=y></i><i class=k></i><i class=k></i><i class=l></i>
<i class=n></i><i class=b></i><i class=b></i><i class=k></i><i class=b></i><i class=b></i><i class=b></i><i class=y></i><i class=l></i><i class=o></i><i class=o></i><i class=k></i><i class=l></i><i class=k></i><i class=l></i><i class=k></i><i class=y></i><i class=k></i><i class=n></i><i class=b></i><i class=b></i><i class=n></i><i class=n></i><i class=n></i><i class=o></i><i class=k></i><i class=k></i><i class=n></i><i class=n></i><i class=n></i><i class=b></i>
<i class=n></i><i class=u></i><i class=b></i><i class=k></i><i class=b></i><i class=b></i><i class=u></i><i class=y></i><i class=l></i><i class=o></i><i class=o></i><i class=k></i><i class=l></i><i class=k></i><i class=l></i><i class=k></i><i class=y></i><i class=k></i><i class=n></i><i class=b></i><i class=b></i><i class=k></i><i class=n></i><i class=n></i><i class=n></i><i class=k></i><i class=k></i><i class=n></i><i class=n></i><i class=n></i><i class=b></i>
<i class=n></i><i class=u></i><i class=b></i><i class=k></i><i class=b></i><i class=u></i><i class=u></i><i class=y></i><i class=l></i><i class=o></i><i class=o></i><i class=k></i><i class=l></i><i class=k></i><i class=y></i><i class=k></i><i class=y></i><i class=k></i><i class=n></i><i class=b></i><i class=b></i><i class=n></i><i class=n></i><i class=n></i><i class=k></i><i class=k></i><i class=k></i><i class=n></i><i class=n></i><i class=n></i><i class=b></i>
<i class=n></i><i class=u></i><i class=b></i><i class=k></i><i class=b></i><i class=b></i><i class=b></i><i class=y></i><i class=l></i><i class=o></i><i class=o></i><i class=k></i><i class=l></i><i class=k></i><i class=y></i><i class=k></i><i class=l></i><i class=k></i><i class=n></i><i class=b></i><i class=b></i><i class=n></i><i class=n></i><i class=n></i><i class=n></i><i class=n></i><i class=k></i><i class=n></i><i class=n></i><i class=n></i><i class=b></i>
<i class=n></i><i class=b></i><i class=b></i><i class=o></i><i class=b></i><i class=u></i><i class=b></i><i class=y></i><i class=l></i><i class=o></i><i class=o></i><i class=k></i><i class=l></i><i class=n></i><i class=l></i><i class=k></i><i class=l></i><i class=k></i><i class=n></i><i class=u></i><i class=b></i><i class=n></i><i class=n></i><i class=n></i><i class=n></i><i class=n></i><i class=k></i><i class=n></i><i class=n></i><i class=n></i><i class=b></i>
<i class=n></i><i class=b></i><i class=n></i><i class=o></i><i class=b></i><i class=b></i><i class=n></i><i class=y></i><i class=y></i><i class=o></i><i class=k></i><i class=k></i><i class=o></i><i class=o></i><i class=y></i><i class=k></i><i class=l></i><i class=k></i><i class=n></i><i class=b></i><i class=b></i><i class=n></i><i class=n></i><i class=n></i><i class=n></i><i class=n></i><i class=n></i><i class=n></i><i class=n></i><i class=n></i><i class=b></i>
<i class=k></i><i class=b></i><i class=n></i><i class=l></i><i class=l></i><i class=b></i><i class=k></i><i class=y></i><i class=o></i><i class=o></i><i class=k></i><i class=k></i><i class=n></i><i class=b></i><i class=k></i><i class=b></i><i class=n></i><i class=b></i><i class=n></i><i class=n></i><i class=n></i><i class=n></i><i class=n></i><i class=n></i><i class=n></i><i class=l></i><i class=k></i><i class=k></i><i class=n></i><i class=k></i><i class=n></i>
<i class=n></i><i class=n></i><i class=k></i><i class=l></i><i class=l></i><i class=b></i><i class=o></i><i class=y></i><i class=l></i><i class=o></i><i class=k></i><i class=n></i><i class=b></i><i class=o></i><i class=n></i><i class=n></i><i class=b></i><i class=b></i><i class=n></i><i class=n></i><i class=n></i><i class=n></i><i class=n></i><i class=n></i><i class=n></i><i class=k></i><i class=n></i><i class=n></i><i class=n></i><i class=n></i><i class=b></i>
<i class=k></i><i class=k></i><i class=k></i><i class=l></i><i class=l></i><i class=b></i><i class=o></i><i class=y></i><i class=l></i><i class=o></i><i class=k></i><i class=n></i><i class=b></i><i class=o></i><i class=n></i><i class=n></i><i class=b></i><i class=b></i><i class=n></i><i class=b></i><i class=b></i><i class=n></i><i class=n></i><i class=n></i><i class=n></i><i class=n></i><i class=n></i><i class=n></i><i class=n></i><i class=n></i><i class=b></i>
<i class=k></i><i class=k></i><i class=k></i><i class=l></i><i class=l></i><i class=b></i><i class=o></i><i class=y></i><i class=l></i><i class=o></i><i class=k></i><i class=n></i><i class=n></i><i class=l></i><i class=n></i><i class=n></i><i class=b></i><i class=b></i><i class=n></i><i class=b></i><i class=b></i><i class=b></i><i class=n></i><i class=n></i><i class=n></i><i class=n></i><i class=n></i><i class=n></i><i class=n></i><i class=n></i><i class=b></i>
<i class=k></i><i class=k></i><i class=n></i><i class=o></i><i class=l></i><i class=k></i><i class=n></i><i class=y></i><i class=o></i><i class=o></i><i class=o></i><i class=n></i><i class=n></i><i class=l></i><i class=n></i><i class=b></i><i class=n></i><i class=b></i><i class=n></i><i class=u></i><i class=u></i><i class=u></i><i class=u></i><i class=b></i><i class=b></i><i class=n></i><i class=n></i><i class=b></i><i class=b></i><i class=n></i><i class=b></i>
<i class=o></i><i class=l></i><i class=l></i><i class=y></i><i class=y></i><i class=n></i><i class=y></i><i class=y></i><i class=l></i><i class=l></i><i class=o></i><i class=o></i><i class=k></i><i class=l></i><i class=k></i><i class=k></i><i class=b></i><i class=b></i><i class=n></i><i class=b></i><i class=b></i><i class=n></i><i class=n></i><i class=n></i><i class=n></i><i class=o></i><i class=o></i><i class=n></i><i class=n></i><i class=n></i><i class=b></i>
<i class=k></i><i class=k></i><i class=k></i><i class=l></i><i class=y></i><i class=k></i><i class=y></i><i class=y></i><i class=l></i><i class=n></i><i class=b></i><i class=n></i><i class=k></i><i class=b></i><i class=k></i><i class=y></i><i class=k></i><i class=k></i><i class=o></i><i class=o></i><i class=b></i><i class=b></i><i class=b></i><i class=n></i><i class=n></i><i class=n></i><i class=b></i><i class=b></i><i class=n></i><i class=n></i><i class=b></i>
</div>
<div class="sep" style="left:264.5px;top:452px;width:2.6px;height:202px"></div>
<div class="sep" style="left:74px;top:514.2px;width:329px;height:2.6px"></div>
</body></html>
